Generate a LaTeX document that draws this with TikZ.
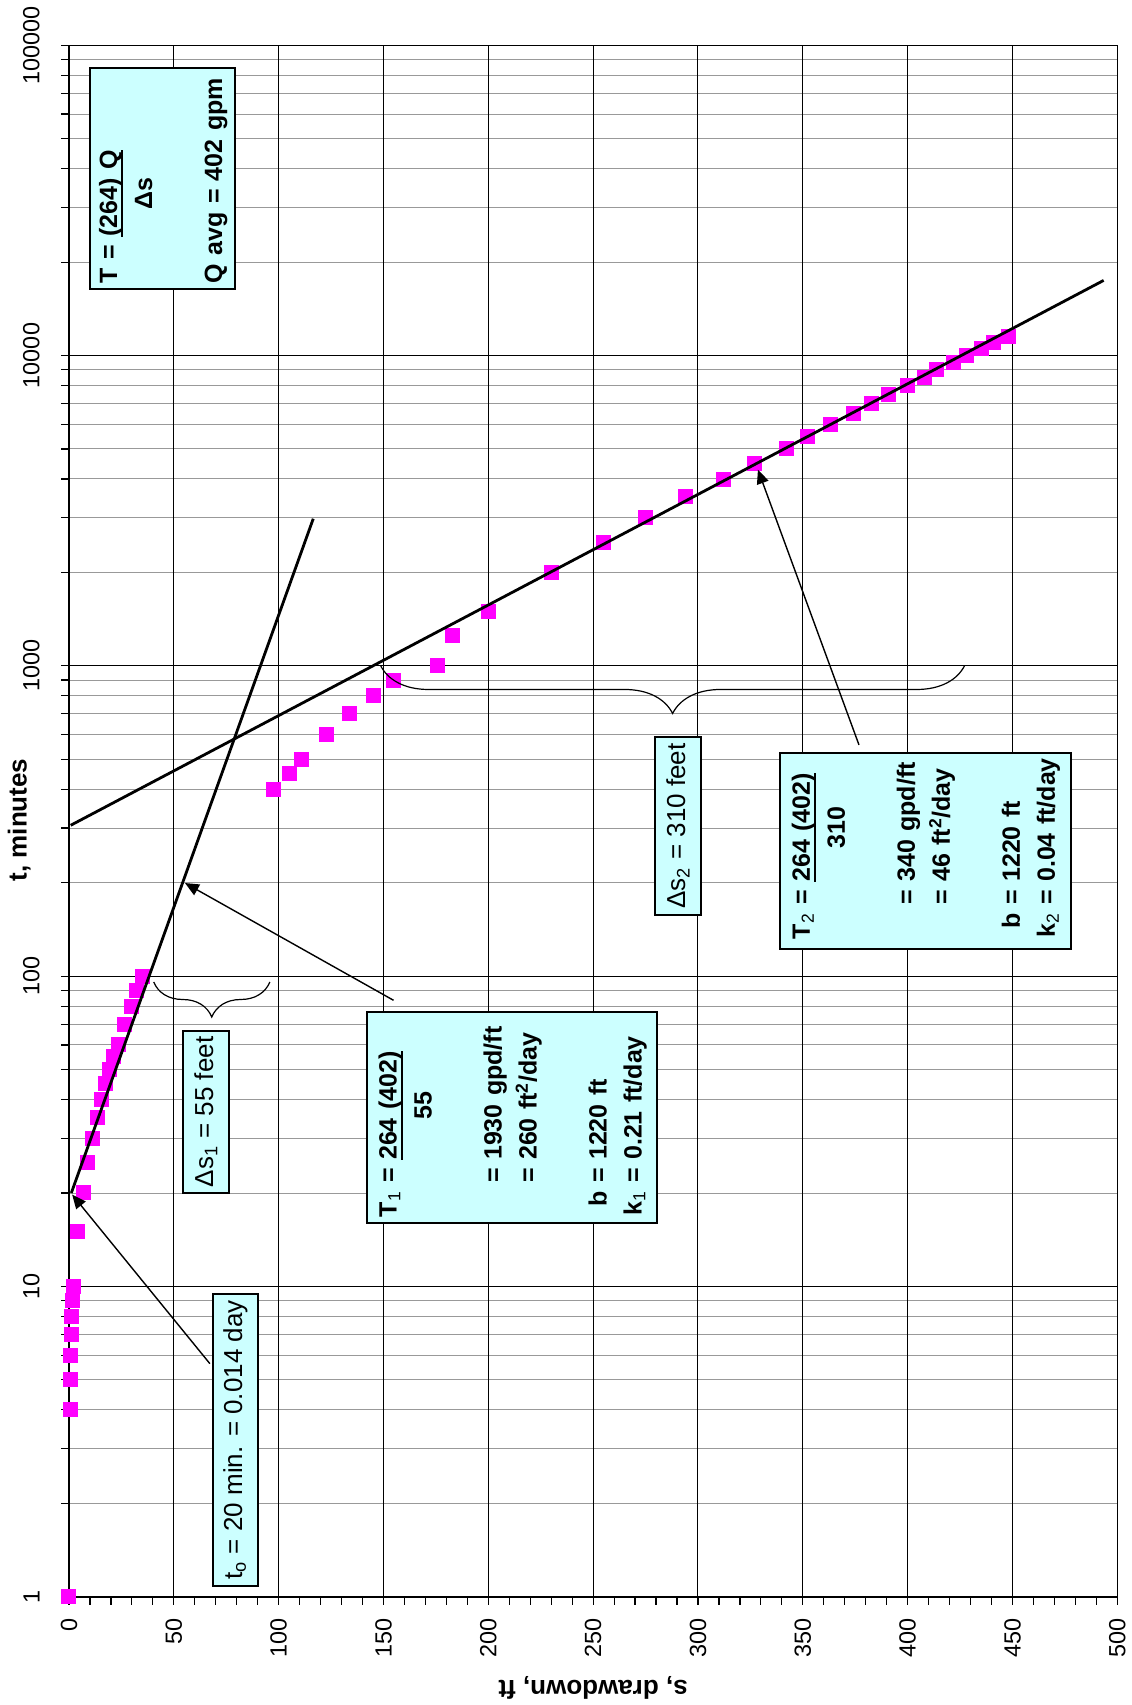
\documentclass[tikz,border=0pt]{standalone}
\usepackage{fontspec}
\setmainfont{Liberation Sans}
\usetikzlibrary{arrows.meta,decorations.pathreplacing}
\definecolor{boxcyan}{HTML}{CCFFFF}
\definecolor{ptmag}{HTML}{FF00FF}
\definecolor{minorgray}{HTML}{999999}
\newcommand{\numline}[1]{\setbox0=\hbox{#1}\rlap{\rule[-3pt]{\wd0}{1pt}}\box0}
\newcommand{\under}[2]{\ooalign{\hphantom{#1}\cr\hfil #2\hfil\cr}}
\tikzset{
  minorgrid/.style={minorgray, line width=0.5pt},
  majorgrid/.style={black, line width=0.5pt},
  axisline/.style={black, line width=1pt},
  ticklab/.style={rotate=90, inner sep=0pt, font=\fontsize{11.7}{14}\selectfont},
  axistitle/.style={inner sep=0pt, font=\fontsize{13}{15}\selectfont\bfseries},
  infobox/.style={draw, line width=1pt, fill=boxcyan, rotate=90, inner sep=3pt, align=left, font=\fontsize{12.5}{17.5}\selectfont\bfseries},
  notebox/.style={draw, line width=1pt, fill=boxcyan, rotate=90, inner sep=1pt, align=center, font=\fontsize{13}{15}\selectfont},
  fitline/.style={line width=1.4pt},
  callout/.style={line width=0.7pt, -{Triangle[length=7pt,width=6pt]}},
  bracepath/.style={line width=0.6pt, decorate},
}
\begin{document}
\begin{tikzpicture}[x=1.0483pt, y=155.15pt]
\useasboundingbox (-32.91,-0.349) rectangle (507.01,5.1457);
% grid
\foreach \d in {0,...,4}
  \foreach \k in {2,...,9}
    \draw[minorgrid] (0,{\d+log10(\k)}) -- (500,{\d+log10(\k)});
\foreach \d in {1,...,5} \draw[majorgrid] (0,\d) -- (500,\d);
\foreach \s in {50,100,...,500} \draw[majorgrid] (\s,0) -- (\s,5);
% ticks and axes
\foreach \d in {0,...,4}
  \foreach \k in {1,...,9}
    \draw[line width=0.6pt] (0,{\d+log10(\k)}) -- ++(-4pt,0);
\draw[line width=0.6pt] (0,5) -- ++(-4pt,0);
\foreach \s in {0,10,...,500} \draw[line width=0.6pt] (\s,0) -- ++(0,-4pt);
\draw[axisline] (0,5) -- (0,0) -- (500,0);
% tick labels
\foreach \s in {0,50,...,500}
  \node[ticklab, anchor=east] (sl\s) at ([yshift=-10.6pt]\s,0) {\s};
\foreach \d/\lab in {0/1,1/10,2/100,3/1000,4/10000,5/100000}
  \node[ticklab, anchor=south] (tl\d) at ([xshift=-14.5pt]0,\d) {\lab};
\node[axistitle, rotate=90] (ttitle) at (-23.8,2.503) {t, minutes};
\node[axistitle, rotate=180] (stitle) at (250,-0.294) {s, drawdown, ft};
% data
\foreach \s/\t in {0/1,0.5/4,0.5/5,0.8/6,1/7,1.2/8,1.5/9,2/10,4.1/15,6.8/20,9/25,11.3/30,
    13.4/35,15.4/40,17.3/45,19.4/50,21/55,23.5/60,26.4/70,29.6/80,32.1/90,35.2/100,
    97.4/400,105/450,111/500,123/600,134/700,145/800,155/900,175.6/1000,182.9/1250,
    200/1500,230/2000,255/2500,275/3000,294/3500,312/4000,327/4500,342/5000,352/5500,
    363/6000,374/6500,383/7000,391/7500,400/8000,408/8500,414/9000,422/9500,428/10000,
    435/10500,441/11000,448/11500}
  \fill[ptmag] (\s,{log10(\t)}) +(-3.75pt,-3.75pt) rectangle +(3.75pt,3.75pt);
% straight lines
\coordinate (l1a) at (1.1,1.301);
\coordinate (l1b) at (116.5,3.474);
\coordinate (l2a) at (0.8,2.486);
\coordinate (l2b) at (493.5,4.242);
\draw[fitline] (l1a) -- (l1b);
\draw[fitline] (l2a) -- (l2b);
% braces
\coordinate (b1l) at (40.4,1.981);
\coordinate (b1r) at (95.8,1.981);
\coordinate (b2l) at (148.6,3.001);
\coordinate (b2r) at (427.2,3.001);
\draw[bracepath, decoration={brace, mirror, amplitude=17.5pt}] (b1l) -- (b1r);
\draw[bracepath, decoration={brace, mirror, amplitude=24pt}] (b2l) -- (b2r);
% boxes
\node[infobox, text width=104.5pt, minimum height=72.5pt, inner ysep=1pt] (tbox) at (44.6,4.570) {%
  \begin{tabular}{@{}l@{}}
  T = \numline{(264) Q}\\
  \phantom{T =\ }\under{(264) Q}{Δs}\\
  \\
  Q avg = 402 gpm
  \end{tabular}};
\node[infobox, text width=99.5pt, minimum height=145pt, inner ysep=2pt] (t1box) at (211.3,1.544) {%
  \begin{tabular}{@{}r@{\ }l@{}}
  T\textsubscript{\mdseries 1} & = \numline{264 (402)}\\
   & \phantom{=\ }\under{264 (402)}{55}\\
   & \\
   & = 1930 gpd/ft\\
   & = 260 ft\textsuperscript{2}/day\\
   & \\
  b & = 1220 ft\\
  k\textsubscript{\mdseries 1} & = 0.21 ft/day
  \end{tabular}};
\node[infobox, text width=88pt, inner xsep=5pt, minimum height=145.5pt, inner ysep=2pt] (t2box) at (408.5,2.403) {%
  \begin{tabular}{@{}r@{\ }l@{}}
  T\textsubscript{\mdseries 2} & = \numline{264 (402)}\\
   & \phantom{=\ }\under{264 (402)}{310}\\
   & \\
   & = 340 gpd/ft\\
   & = 46 ft\textsuperscript{2}/day\\
   & \\
  b & = 1220 ft\\
  k\textsubscript{\mdseries 2} & = 0.04 ft/day
  \end{tabular}};
\node[notebox, minimum width=146pt, minimum height=22.5pt] (t0box) at (79.4,0.505) {t\textsubscript{o} = 20 min. = 0.014 day};
\node[notebox, minimum width=81pt, minimum height=23pt] (ds1box) at (65.3,1.562) {Δs\textsubscript{1} = 55 feet};
\node[notebox, minimum width=89pt, minimum height=23pt] (ds2box) at (290.5,2.484) {Δs\textsubscript{2} = 310 feet};
% callout arrows
\coordinate (t0tail) at (67.2,0.751);
\coordinate (t0tip) at (1.5,1.296);
\coordinate (t1tail) at (154.8,1.922);
\coordinate (t1tip) at (55.3,2.300);
\coordinate (t2tail) at (376.8,2.745);
\coordinate (t2tip) at (328.6,3.632);
\draw[callout] (t0tail) -- (t0tip);
\draw[callout] (t1tail) -- (t1tip);
\draw[callout] (t2tail) -- (t2tip);
\end{tikzpicture}
\end{document}
